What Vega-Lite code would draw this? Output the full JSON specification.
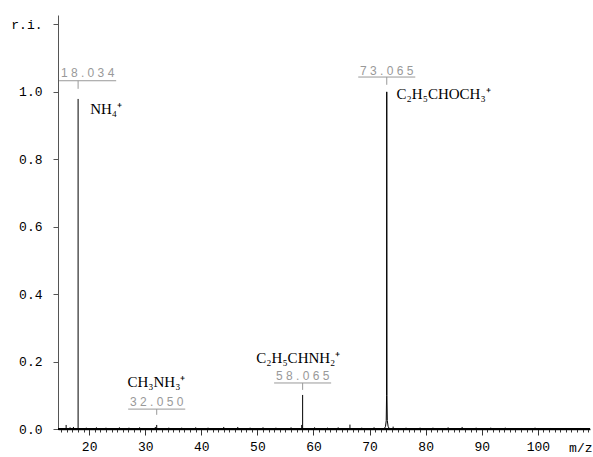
{
  "$schema": "https://vega.github.io/schema/vega-lite/v6.json",
  "width": 532,
  "height": 414,
  "autosize": "none",
  "padding": {"left": 58, "top": 15, "right": 3, "bottom": 28},
  "background": "white",
  "config": {"view": {"stroke": null}},
  "resolve": {"axis": {"x": "independent"}},
  "datasets": {
    "sticks": [
      {"mz": 15.9, "ri": 0.012}, {"mz": 16.6, "ri": 0.005}, {"mz": 17.2, "ri": 0.006},
      {"mz": 18.034, "ri": 0.979}, {"mz": 19.5, "ri": 0.004}, {"mz": 21.3, "ri": 0.005},
      {"mz": 23.0, "ri": 0.004}, {"mz": 25.4, "ri": 0.005}, {"mz": 27.1, "ri": 0.004},
      {"mz": 29.0, "ri": 0.005}, {"mz": 31.8, "ri": 0.006}, {"mz": 32.05, "ri": 0.012},
      {"mz": 34.2, "ri": 0.004}, {"mz": 36.5, "ri": 0.004}, {"mz": 39.0, "ri": 0.005},
      {"mz": 41.2, "ri": 0.004}, {"mz": 44.0, "ri": 0.006}, {"mz": 46.5, "ri": 0.006},
      {"mz": 48.7, "ri": 0.004}, {"mz": 51.0, "ri": 0.005}, {"mz": 53.3, "ri": 0.004},
      {"mz": 56.0, "ri": 0.005}, {"mz": 57.9, "ri": 0.012}, {"mz": 58.065, "ri": 0.101},
      {"mz": 60.2, "ri": 0.005}, {"mz": 62.5, "ri": 0.004}, {"mz": 64.4, "ri": 0.005},
      {"mz": 66.5, "ri": 0.013}, {"mz": 68.6, "ri": 0.004}, {"mz": 70.8, "ri": 0.005},
      {"mz": 74.2, "ri": 0.007}, {"mz": 76.5, "ri": 0.004}, {"mz": 79.0, "ri": 0.004},
      {"mz": 81.3, "ri": 0.004}, {"mz": 84.0, "ri": 0.005}, {"mz": 86.5, "ri": 0.006},
      {"mz": 89.0, "ri": 0.004}, {"mz": 91.6, "ri": 0.004}, {"mz": 94.2, "ri": 0.004},
      {"mz": 97.0, "ri": 0.003}, {"mz": 99.5, "ri": 0.004}, {"mz": 102.3, "ri": 0.003},
      {"mz": 105.0, "ri": 0.003}, {"mz": 107.6, "ri": 0.003}
    ],
    "profile73": [
      {"mz": 72.6, "ri": 0.0}, {"mz": 72.85, "ri": 0.008}, {"mz": 72.97, "ri": 0.025},
      {"mz": 73.03, "ri": 0.1}, {"mz": 73.065, "ri": 1.0}, {"mz": 73.1, "ri": 0.1},
      {"mz": 73.16, "ri": 0.025}, {"mz": 73.3, "ri": 0.008}, {"mz": 73.55, "ri": 0.0}
    ],
    "ann": [
      {"mz": 18.034, "lab": "1 8 . 0 3 4", "tx": 19.73, "x1": 14.64, "x2": 24.82, "ly": 1.033, "te": 1.009, "yt": 1.055},
      {"mz": 32.05, "lab": "3 2 . 0 5 0", "tx": 32.05, "x1": 26.96, "x2": 37.14, "ly": 0.059, "te": 0.042, "yt": 0.08},
      {"mz": 58.065, "lab": "5 8 . 0 6 5", "tx": 58.065, "x1": 52.98, "x2": 63.15, "ly": 0.1365, "te": 0.116, "yt": 0.157},
      {"mz": 73.065, "lab": "7 3 . 0 6 5", "tx": 73.065, "x1": 67.98, "x2": 78.15, "ly": 1.044, "te": 1.021, "yt": 1.062}
    ],
    "formulasRight": [
      {"mz": 20.18, "ri": 0.95, "name": "NH₄⁺"},
      {"mz": 74.82, "ri": 0.994, "name": "C₂H₅CHOCH₃⁺"}
    ],
    "formulasAbove": [
      {"mz": 32.0, "ri": 0.139, "name": "CH₃NH₃⁺"},
      {"mz": 57.3, "ri": 0.211, "name": "C₂H₅CHNH₂⁺"}
    ]
  },
  "layer": [
    {
      "data": {"name": "sticks"},
      "mark": {"type": "rule", "color": "black", "strokeWidth": 1},
      "encoding": {
        "x": {
          "field": "mz", "type": "quantitative",
          "scale": {"domain": [14.45, 109.3], "nice": false, "zero": false},
          "axis": {
            "orient": "bottom",
            "values": [20, 30, 40, 50, 60, 70, 80, 90, 100],
            "format": "d",
            "labelOverlap": false,
            "labelFlush": false,
            "labelFont": "Liberation Mono",
            "labelFontSize": 13,
            "labelColor": "black",
            "labelPadding": 5,
            "tickSize": 6,
            "tickColor": "#333",
            "domainColor": "#222",
            "domainWidth": 1.5,
            "grid": false,
            "title": "m/z",
            "titleFont": "Liberation Mono",
            "titleFontSize": 13,
            "titleFontWeight": "normal",
            "titleColor": "black",
            "titleAnchor": "end",
            "titleAlign": "right",
            "titleBaseline": "middle",
            "titleX": 534,
            "titleY": 18
          }
        },
        "y": {
          "field": "ri", "type": "quantitative",
          "scale": {"domain": [0, 1.228], "nice": false},
          "axis": {
            "values": [0,0.05,0.1,0.15,0.2,0.25,0.3,0.35,0.4,0.45,0.5,0.55,0.6,0.65,0.7,0.75,0.8,0.85,0.9,0.95,1.0,1.05,1.1,1.15,1.2],
            "labelExpr": "abs(datum.value - 1.2) < 0.001 ? 'r.i.' : (abs(round(datum.value * 100) % 20) === 0 ? format(datum.value, '.1f') : '')",
            "labelOverlap": false,
            "labelFont": "Liberation Mono",
            "labelFontSize": 13,
            "labelColor": "black",
            "labelPadding": 11,
            "tickSize": 5,
            "tickColor": "#555",
            "domainColor": "#555",
            "grid": false,
            "title": null
          }
        },
        "y2": {"datum": 0}
      }
    },
    {
      "data": {"name": "profile73"},
      "mark": {"type": "line", "color": "black", "strokeWidth": 1, "interpolate": "linear"},
      "encoding": {
        "x": {
          "field": "mz", "type": "quantitative",
          "axis": {
            "orient": "bottom",
            "values": [15,16,17,18,19,21,22,23,24,25,26,27,28,29,31,32,33,34,35,36,37,38,39,41,42,43,44,45,46,47,48,49,51,52,53,54,55,56,57,58,59,61,62,63,64,65,66,67,68,69,71,72,73,74,75,76,77,78,79,81,82,83,84,85,86,87,88,89,91,92,93,94,95,96,97,98,99,101,102,103,104,105,106,107,108,109],
            "labels": false,
            "domain": false,
            "grid": false,
            "tickSize": 3,
            "tickColor": "#333",
            "title": null
          }
        },
        "y": {"field": "ri", "type": "quantitative"}
      }
    },
    {
      "data": {"name": "sticks"},
      "mark": {"type": "rule", "color": "black", "strokeWidth": 2},
      "encoding": {"y": {"datum": 0}}
    },
    {
      "data": {"name": "ann"},
      "mark": {"type": "rule", "color": "#999", "strokeWidth": 1},
      "encoding": {
        "x": {"field": "x1", "type": "quantitative", "axis": null},
        "x2": {"field": "x2"},
        "y": {"field": "ly", "type": "quantitative"}
      }
    },
    {
      "data": {"name": "ann"},
      "mark": {"type": "rule", "color": "#999", "strokeWidth": 1},
      "encoding": {
        "x": {"field": "mz", "type": "quantitative", "axis": null},
        "y": {"field": "ly", "type": "quantitative"},
        "y2": {"field": "te"}
      }
    },
    {
      "data": {"name": "ann"},
      "mark": {"type": "text", "font": "Liberation Sans", "fontSize": 12, "color": "#999", "align": "center", "baseline": "middle"},
      "encoding": {
        "x": {"field": "tx", "type": "quantitative", "axis": null},
        "y": {"field": "yt", "type": "quantitative"},
        "text": {"field": "lab"}
      }
    },
    {
      "data": {"name": "formulasRight"},
      "mark": {"type": "text", "font": "Liberation Serif", "fontSize": 15, "color": "black", "align": "left", "baseline": "middle"},
      "encoding": {
        "x": {"field": "mz", "type": "quantitative", "axis": null},
        "y": {"field": "ri", "type": "quantitative"},
        "text": {"field": "name"}
      }
    },
    {
      "data": {"name": "formulasAbove"},
      "mark": {"type": "text", "font": "Liberation Serif", "fontSize": 15, "color": "black", "align": "center", "baseline": "middle"},
      "encoding": {
        "x": {"field": "mz", "type": "quantitative", "axis": null},
        "y": {"field": "ri", "type": "quantitative"},
        "text": {"field": "name"}
      }
    }
  ]
}
